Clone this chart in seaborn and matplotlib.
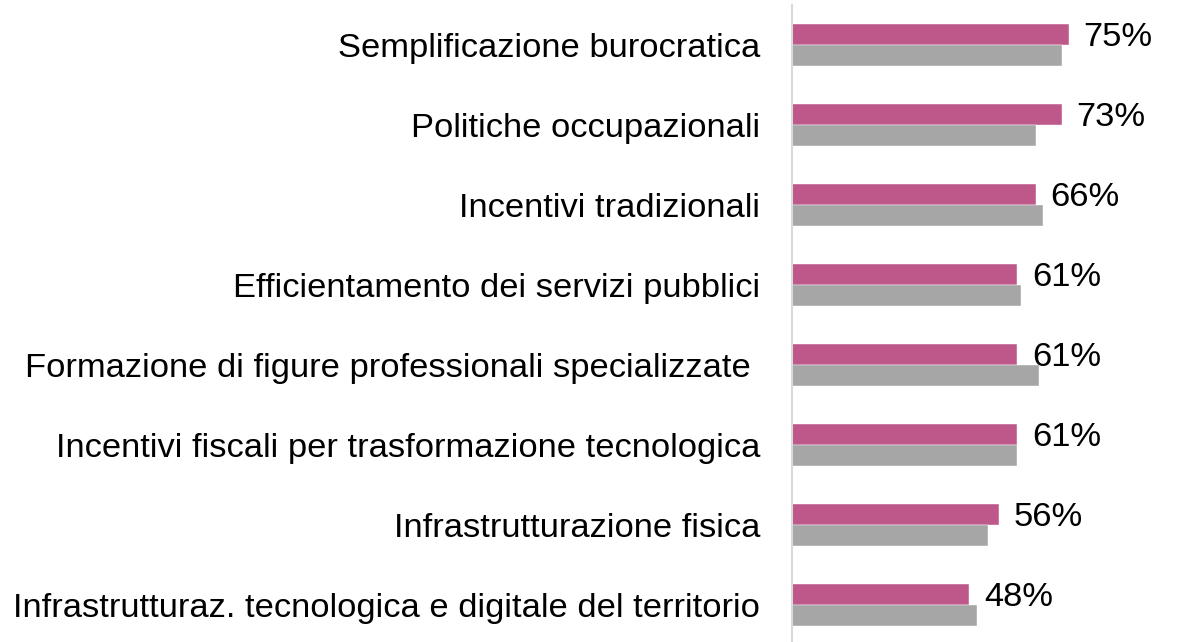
import pandas as pd
import matplotlib
matplotlib.use("Agg")
import matplotlib.pyplot as plt
import seaborn as sns

# Dati
categorie = [
    "Semplificazione burocratica",
    "Politiche occupazionali",
    "Incentivi tradizionali",
    "Efficientamento dei servizi pubblici",
    "Formazione di figure professionali specializzate ",
    "Incentivi fiscali per trasformazione tecnologica",
    "Infrastrutturazione fisica",
    "Infrastrutturaz. tecnologica e digitale del territorio",
]
serie_a = [75, 73, 66, 61, 61, 61, 56, 48]   # barre rosa (etichettate)
serie_b = [73, 66, 68, 62, 67, 61, 53, 50]   # barre grigie
nomi_serie = ["A", "B"]
colori = ["#BE588A", "#A6A6A6"]

df = pd.DataFrame({
    "categoria": categorie * 2,
    "valore": serie_a + serie_b,
    "serie": [nomi_serie[0]] * len(categorie) + [nomi_serie[1]] * len(categorie),
})

sns.set_theme(style="white")
plt.rcParams["font.family"] = ["Liberation Sans", "DejaVu Sans"]

fig = plt.figure(figsize=(11.79, 6.42), dpi=100)
ax = fig.add_axes([0.6718, -0.0047, 0.3282, 0.997])

sns.barplot(data=df, y="categoria", x="valore", hue="serie", orient="h",
            palette=colori, saturation=1, width=0.525, legend=False, ax=ax,
            edgecolor="white", linewidth=0.3)

ax.set_xlim(0, (1179 - 792) / 3.693)
ax.set_ylim(7.5, -0.5)

# etichette dei valori
for i, v in enumerate(serie_a):
    ax.annotate(f"{v}%", xy=(v, i - 0.131), xytext=(10.5, -2),
                textcoords="offset points", va="center", ha="left",
                fontsize=24.8, color="black")

ax.set_xlabel("")
ax.set_ylabel("")
ax.set_xticks([])
ax.tick_params(axis="y", length=0, pad=23, labelsize=24.8, labelcolor="black")
for s in ["top", "right", "bottom"]:
    ax.spines[s].set_visible(False)
ax.spines["left"].set_color("#D9D9D9")
ax.spines["left"].set_linewidth(1.5)

fig.savefig("out.png", dpi=100)
